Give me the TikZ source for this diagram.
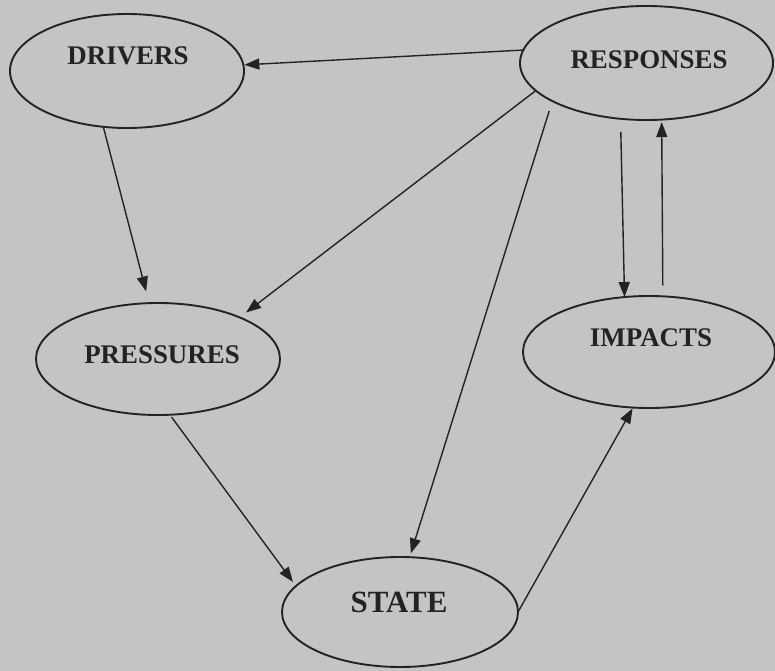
\documentclass[tikz,border=0pt]{standalone}
\usepackage{fontspec}
\setmainfont{Liberation Serif}
\usetikzlibrary{shapes.geometric,arrows.meta}
\definecolor{bg}{HTML}{C4C4C4}
\definecolor{ink}{HTML}{232323}
\tikzset{
  oval/.style={ellipse, draw=ink, line width=1.9bp, inner sep=0pt, outer sep=0pt},
  lbl/.style={inner sep=0pt, text=ink, font=\bfseries\fontsize{27}{30}\selectfont},
  conn/.style={draw=ink, line width=1.4bp, -{Triangle[length=15bp,width=11bp]}}
}
\begin{document}
\begin{tikzpicture}[x=1bp,y=-1bp]
\fill[bg] (0,0) rectangle (775,671);
\useasboundingbox (0,0) rectangle (775,671);
% ellipses
\node[oval, minimum width=234bp, minimum height=114bp] (drv) at (127,71) {};
\node[oval, minimum width=253bp, minimum height=114bp] (resp) at (646.5,63) {};
\node[oval, minimum width=252bp, minimum height=112bp] (imp) at (649,352) {};
\node[oval, minimum width=244bp, minimum height=112bp] (pres) at (158,359) {};
\node[oval, minimum width=236bp, minimum height=110bp] (state) at (400,612) {};
% labels
\node[lbl] (drvt) at (128,56) {DRIVERS};
\node[lbl] (respt) at (649,60) {RESPONSES};
\node[lbl] (impt) at (651,338) {IMPACTS};
\node[lbl] (prest) at (162,355) {PRESSURES};
\node[lbl, font=\bfseries\fontsize{31}{34}\selectfont] (statet) at (399,602) {STATE};
% connectors
\draw[conn, shorten >=1bp] (resp.174.6) -- (drv.3.8);
\draw[conn, shorten >=12bp] (drv.247.2) -- (pres.99.1);
\draw[conn, shorten >=8bp] (resp.194.4) -- (pres.27.6);
\draw[conn, shorten <=10.5bp, shorten >=4bp] (resp.202.8) -- (state.80.7);
\draw[conn, shorten <=13bp] (resp.245.9) -- (imp.114.4);
\draw[conn, shorten <=11bp, shorten >=2.5bp] (imp.76) -- (resp.285.8);
\draw[conn, shorten <=3bp, shorten >=5bp] (pres.282.1) -- (state.166.6);
\draw[conn, shorten >=1bp] (state.-0.5) -- (imp.254.1);
\end{tikzpicture}
\end{document}
